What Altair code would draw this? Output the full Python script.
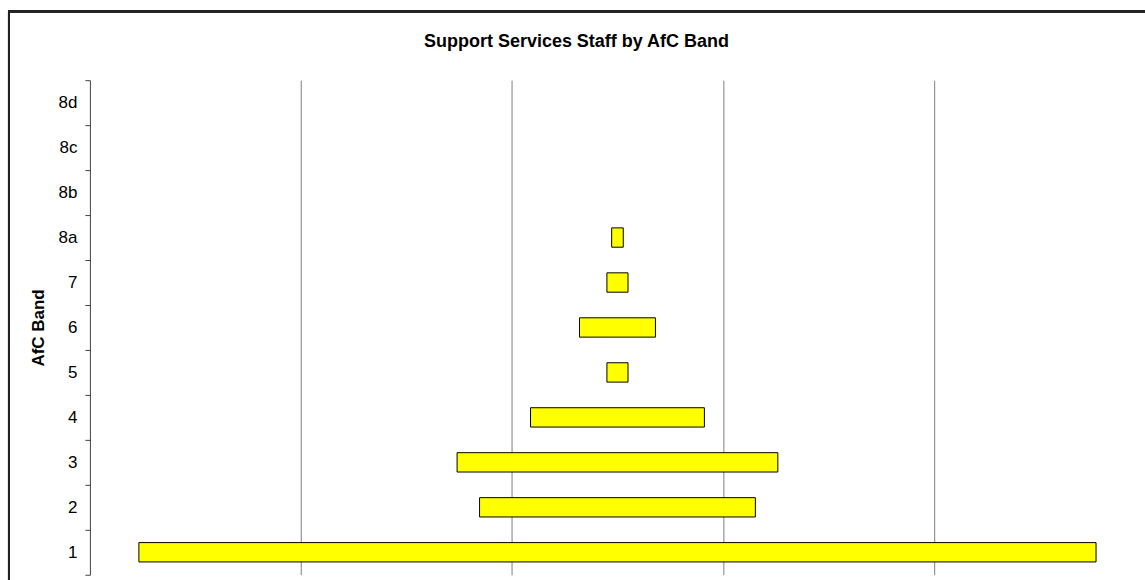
import altair as alt
import pandas as pd

bands = ["8d", "8c", "8b", "8a", "7", "6", "5", "4", "3", "2", "1"]
staff = [0, 0, 0, 5.5, 10, 36, 10, 82.4, 152, 130.7, 453.6]

df = pd.DataFrame({"band": bands, "staff": staff})

FONT = "Liberation Sans"

ybase = alt.Y(
    "band:N",
    sort=bands,
    scale=alt.Scale(domain=bands, paddingInner=0, paddingOuter=0),
    axis=alt.Axis(
        title="AfC Band",
        titleFont=FONT,
        titleFontSize=17,
        titleFontWeight="bold",
        titleColor="black",
        titlePadding=11,
        labelFont=FONT,
        labelFontSize=17,
        labelColor="black",
        labelPadding=8,
        tickSize=5,
        tickBand="extent",
        tickColor="#404040",
        domainColor="#404040",
        grid=False,
    ),
)

xscale = alt.Scale(domain=[0, 500], nice=False, zero=True)

bars = (
    alt.Chart(df)
    .transform_filter(alt.datum.staff > 0)
    .transform_calculate(lo="250 - datum.staff / 2", hi="250 + datum.staff / 2")
    .mark_bar(height=alt.RelativeBandSize(0.43), fill="#FFFF00", stroke="black", strokeWidth=1)
    .encode(
        x=alt.X(
            "lo:Q",
            scale=xscale,
            axis=alt.Axis(
                values=[100, 200, 300, 400],
                labels=False,
                ticks=False,
                domain=False,
                grid=True,
                gridColor="#808080",
                gridWidth=1,
                gridOpacity=1,
                title=None,
            ),
        ),
        x2="hi:Q",
        y=ybase,
    )
)

frame = alt.Chart(df).mark_rect(fill=None, stroke="#222222", strokeWidth=2).encode(
    x=alt.value(-81), x2=alt.value(1070), y=alt.value(-69), y2=alt.value(520)
)

chart = (
    alt.layer(bars, frame)
    .properties(
        width=1056,
        height=495,
        title=alt.TitleParams(
            "Support Services Staff by AfC Band",
            font=FONT,
            fontSize=18,
            fontWeight="bold",
            color="black",
            anchor="middle",
            dx=-41,
            offset=-55,
            baseline="alphabetic",
        ),
        autosize=alt.AutoSizeParams(type="none"),
        padding={"left": 90, "top": 80, "right": 0, "bottom": 5},
        background="white",
    )
    .configure_view(stroke=None)
)

chart.save("out.html", embed_options={"renderer": "svg", "actions": False})
